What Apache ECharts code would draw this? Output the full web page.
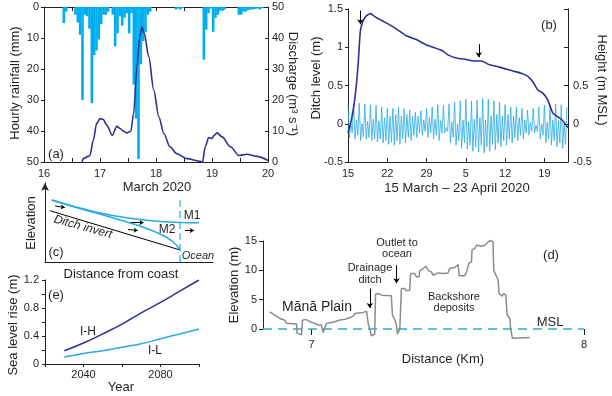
<!DOCTYPE html>
<html><head><meta charset="utf-8">
<script src="https://cdn.jsdelivr.net/npm/echarts@6/dist/echarts.min.js"></script>
<style>html,body{margin:0;padding:0;background:#fff}#c{width:612px;height:396px}</style>
</head><body><div id="c"></div>
<script>
// ---------- Panel (a): hourly rainfall (from 16 March 00:00) and discharge ----------
const rainfallStartDay = 16;
const hourlyRainfall = [
  0,0,0,0,0,0,0,0,5.2,1.5,0,0,
  0,2.5,5,9,30,2.5,3,7,31,15.5,14,10.5,
  5.5,2.5,2.5,1.5,0,2.5,12.7,8.5,3,6,3.5,2,
  8.5,2,25,36,49,18.5,11,8,2.5,1.5,0,0,
  0,0,0,0,0,0,0,0,0.8,0.5,0.8,0.3,
  0,0,0,0,0,0,0,0,17,7.3,2,0.5,
  8,3.5,2.5,1.2,1.2,0.8,0,0,0,0,0,2.5,
  2.5,1.5,1.5,1,0.8,0.8,0.6,0.5,0.8,0.4,0,0
];
const dischargeDay = [16.68,16.70,16.79,16.82,16.88,16.94,17.0,17.06,17.12,17.22,17.30,17.36,17.42,17.48,17.55,17.60,17.66,17.71,17.75,17.79,17.87,17.96,18.05,18.14,18.25,18.37,18.55,18.79,18.83,18.88,18.94,19.0,19.04,19.09,19.18,19.33,19.48,19.62,19.80,20.0];
const dischargeValue = [0,1.1,1.8,2.1,7.0,12.4,14.0,13.7,11.9,8.6,11.5,10.8,9.9,9.4,9.9,15.6,30.7,40.4,43.5,41.5,34.0,23.2,14.6,9.2,4.9,2.7,1.1,0.2,0,4.9,7.9,7.6,8.6,9.4,8.1,4.9,2.1,2.5,1.8,0.5];
const axisAX = [16,17,18,19,20];

// ---------- Panel (b): ditch level and ocean tide (days after 15 March) ----------
const ticksB = ['15','22','29','5','12','19'];
const ditchDay = [0,0.6,1.19,1.78,2.2,2.67,3.26,4.04,4.75,6.23,8.01,9.2,10.39,12.17,13.95,15.13,16.91,17.8,19.29,21.07,22.55,23.74,25.22,27.0,29.38,30.86,32.05,32.94,33.83,34.72,35.6,36.5,37.4,38.28,39.17];
const ditchLevel = [-0.12,0.05,0.31,0.75,1.21,1.34,1.41,1.44,1.40,1.34,1.27,1.21,1.15,1.10,1.03,1.0,0.95,0.90,0.86,0.84,0.82,0.82,0.77,0.74,0.69,0.66,0.62,0.55,0.44,0.40,0.31,0.14,0.09,0.04,-0.05];
const tideStep = 0.25; // days between tide readings
const tideHeight = [
  0.25,-0.18,0.02,-0.12,  0.26,-0.20,0.05,-0.15,  0.27,-0.22,0.0,-0.17,  0.26,-0.20,0.03,-0.18,
  0.25,-0.22,0.06,-0.20,  0.24,-0.24,0.04,-0.20,  0.22,-0.25,0.08,-0.22,  0.20,-0.27,0.10,-0.24,
  0.20,-0.28,0.12,-0.22,  0.22,-0.27,0.10,-0.20,  0.20,-0.25,0.12,-0.18,  0.18,-0.22,0.10,-0.15,
  0.15,-0.18,0.10,-0.12,  0.17,-0.15,0.05,-0.10,  0.20,-0.18,0.08,-0.12,  0.22,-0.20,0.06,-0.15,
  0.25,-0.22,0.04,-0.12,  0.24,-0.12,-0.05,-0.10, 0.26,-0.25,0.02,-0.18,  0.28,-0.28,0.0,-0.22,
  0.30,-0.32,0.05,-0.25,  0.32,-0.33,0.02,-0.28,  0.30,-0.36,0.06,-0.30,  0.31,-0.37,0.08,-0.28,
  0.33,-0.38,0.05,-0.30,  0.32,-0.36,0.10,-0.27,  0.30,-0.34,0.12,-0.25,  0.28,-0.30,0.10,-0.22,
  0.25,-0.28,0.12,-0.20,  0.22,-0.25,0.10,-0.18,  0.22,-0.22,0.08,-0.15,  0.20,-0.20,0.05,-0.12,
  0.18,-0.15,0.02,-0.10,  0.20,-0.12,-0.02,-0.10, 0.22,-0.20,0.0,-0.15,   0.24,-0.25,0.02,-0.20,
  0.25,-0.28,0.05,-0.22,  0.26,-0.30,0.04,-0.25,  0.25,-0.32,0.02,-0.27,  0.22
];

// ---------- Panel (c): schematic (arbitrary units) ----------
const invertX = [3.0,80.4];
const invertY = [64.9,15.2];
const m1X = [4.0,20.8,38.7,56.5,68.5,80.4,91.7];
const m1Y = [78.5,68.4,59.5,53.8,51.3,50.0,49.7];
const m2X = [4.0,20.8,38.7,56.5,68.5,75.6,80.4];
const m2Y = [78.5,67.7,57.0,45.6,35.4,26.6,15.8];
const coastX = 80.4;

// ---------- Panel (e): sea level rise scenarios ----------
const slrYear = [2030,2040,2050,2060,2070,2080,2090,2100];
const slrIH = [0.19,0.30,0.43,0.57,0.73,0.88,1.04,1.20];
const slrIL = [0.10,0.15,0.19,0.24,0.29,0.36,0.43,0.50];

// ---------- Panel (d): elevation profile ----------
const profileKm = [6.847,6.865,6.875,6.884,6.902,6.908,6.945,6.947,6.963,6.967,
  6.979,6.994,7.012,7.024,7.03,7.036,7.043,7.049,7.055,7.067,
  7.086,7.104,7.122,7.141,7.153,7.159,7.19,7.202,7.208,7.22,
  7.232,7.235,7.245,7.257,7.293,7.297,7.306,7.312,7.315,7.324,
  7.33,7.342,7.348,7.36,7.364,7.379,7.385,7.395,7.397,7.41,
  7.419,7.428,7.44,7.446,7.465,7.483,7.501,7.507,7.526,7.538,
  7.542,7.562,7.569,7.578,7.587,7.589,7.599,7.605,7.624,7.636,
  7.648,7.657,7.666,7.669,7.685,7.688,7.7,7.705,7.713,7.718,
  7.728,7.73,7.737,7.801];
const profileElev = [2.94,2.38,2.1,1.8,1.5,0.96,0.85,-0.7,-1.0,1.5,
  1.64,1.25,0.96,0.68,0.85,0.68,-0.6,-0.4,0.96,1.07,
  1.25,1.53,1.64,1.92,2.2,2.66,2.83,3.05,0.96,-1.19,
  -0.85,5.94,6.05,5.77,5.66,2.38,1.53,0.68,-0.85,-0.06,
  6.9,6.9,6.5,6.62,9.45,9.45,8.9,8.9,9.9,10.3,
  10.7,10.0,9.73,9.17,9.56,9.45,9.56,10.3,10.47,11.0,
  9.06,9.06,9.73,11.26,11.43,13.5,13.7,14.26,14.1,14.26,
  14.83,15.1,14.83,10.0,8.3,6.05,5.6,6.05,5.77,2.38,
  1.8,0.4,-1.58,-1.47];
const profileRange = [6.822, 8];

// ---------- styling ----------
const NAVY = '#2e3192', CYAN = '#00aeef', TIDE = '#29abe2', GRAY = '#8c8c8c', INK = '#231f20';
const FF = '"Liberation Sans", Arial, sans-serif';
const lbl = (extra) => Object.assign({fontFamily: FF, fontSize: 11, color: INK}, extra || {});
const line = {show: true, onZero: false, lineStyle: {color: INK, width: 1}};
const tick = (inside, len) => ({show: true, inside: inside, length: len || 3, lineStyle: {color: INK}});
const near = (v, s) => Math.abs(v / s - Math.round(v / s)) < 1e-6;
const zip = (a, b) => a.map((v, i) => [v, b[i]]);

const chart = echarts.init(document.getElementById('c'), null, {renderer: 'canvas'});

const arrow = (xi, yi, coordsList, color, size) => ({
  type: 'lines', coordinateSystem: 'cartesian2d', xAxisIndex: xi, yAxisIndex: yi,
  symbol: ['none', 'arrow'], symbolSize: size || 6, silent: true, clip: false,
  lineStyle: {color: color || '#000', width: 1, opacity: 1},
  data: coordsList.map(c => ({coords: c}))
});

const texts = [
  // (a)
  ['(a)', 56, 154, 13], ['Hourly rainfall (mm)', 15, 83, 13, Math.PI / 2],
  ['Discharge (m³ s⁻¹)', 293, 84, 13, -Math.PI / 2], ['March 2020', 157, 187, 13],
  // (b)
  ['(b)', 549, 25, 13], ['Ditch level (m)', 316, 78, 13, Math.PI / 2],
  ['Height (m MSL)', 602, 80, 13, -Math.PI / 2], ['15 March – 23 April 2020', 457, 188, 13],
  // (c)
  ['Elevation', 31, 223, 13, Math.PI / 2], ['Distance from coast', 121, 274, 13], ['(c)', 56, 252, 13],
  ['Ditch invert', 83, 227, 12, -0.27, 'italic'], ['M1', 192, 216, 12], ['M2', 167, 230, 12],
  ['Ocean', 198, 256, 11, 0, 'italic'],
  // (e)
  ['(e)', 56, 295, 13], ['I-H', 88, 332, 12], ['I-L', 155, 351, 12], ['Year', 121, 387, 13],
  ['Sea level rise (m)', 13, 325, 13, Math.PI / 2],
  // (d)
  ['Mānā Plain', 317, 307, 14], ['Drainage', 370, 268, 11], ['ditch', 370, 280, 11],
  ['Outlet to', 397, 243, 11], ['ocean', 397, 254, 11], ['Backshore', 454, 297, 11],
  ['deposits', 454, 308, 11], ['(d)', 551, 255, 13], ['MSL', 550, 322, 13],
  ['Distance (Km)', 443, 359, 13], ['Elevation (m)', 234, 285, 13, Math.PI / 2]
];

const option = {
  animation: false,
  backgroundColor: '#fff',
  grid: [
    {left: 44, top: 7, width: 224, height: 155},
    {left: 348, top: 9, width: 220, height: 153},
    {left: 45, top: 183, width: 168, height: 79},
    {left: 45, top: 280, width: 154, height: 84},
    {left: 263, top: 241, width: 321, height: 88}
  ],
  xAxis: [
    {gridIndex: 0, type: 'value', min: axisAX[0], max: axisAX[axisAX.length - 1], interval: 0.5,
      axisLine: line, axisTick: tick(true, 4), splitLine: {show: false},
      axisLabel: lbl({margin: 6, formatter: v => near(v, 1) ? String(v) : ''})},
    {gridIndex: 0, type: 'value', position: 'top', min: 16, max: 20, interval: 0.5,
      axisLine: line, axisTick: tick(true, 4), splitLine: {show: false}, axisLabel: {show: false}},
    {gridIndex: 1, type: 'value', min: 0, max: 39.2, interval: 7,
      axisLine: line, axisTick: tick(true, 4), splitLine: {show: false},
      axisLabel: lbl({margin: 6, showMaxLabel: false, formatter: v => ticksB[Math.round(v / 7)] || ''})},
    {gridIndex: 2, type: 'value', min: 0, max: 100, axisLine: line, axisTick: {show: false},
      axisLabel: {show: false}, splitLine: {show: false}},
    {gridIndex: 3, type: 'value', min: 2020, max: 2100, interval: 20,
      axisLine: line, axisTick: tick(false, 3), splitLine: {show: false},
      axisLabel: lbl({margin: 5, formatter: v => (v === 2040 || v === 2080) ? String(v) : ''})},
    {gridIndex: 4, type: 'value', min: profileRange[0], max: profileRange[1],
      axisLine: {show: false, onZero: false}, splitLine: {show: false},
      axisTick: {show: true, customValues: [7, 8], length: 6, lineStyle: {color: INK}},
      axisLabel: lbl({customValues: [7, 8], margin: 10})}
  ],
  yAxis: [
    {gridIndex: 0, type: 'value', inverse: true, min: 0, max: 50, interval: 10,
      axisLine: line, axisTick: tick(false, 3), splitLine: {show: false}, axisLabel: lbl({margin: 5})},
    {gridIndex: 0, type: 'value', position: 'right', min: 0, max: 50, interval: 10,
      axisLine: line, axisTick: tick(true, 3), splitLine: {show: false}, axisLabel: lbl({margin: 4})},
    {gridIndex: 1, type: 'value', min: -0.5, max: 1.5, interval: 0.5,
      axisLine: line, axisTick: tick(false, 3), splitLine: {show: false}, axisLabel: lbl({margin: 5})},
    {gridIndex: 1, type: 'value', position: 'right', min: -0.5, max: 1.5, interval: 0.5,
      axisLine: line, axisTick: tick(true, 4), splitLine: {show: false},
      axisLabel: lbl({margin: 5, formatter: v => v <= 0.5 ? String(v) : ''})},
    {gridIndex: 2, type: 'value', min: 0, max: 100,
      axisLine: {show: true, onZero: false, symbol: ['none', 'arrow'], symbolSize: [6, 8], lineStyle: {color: INK, width: 1}},
      axisTick: {show: false}, axisLabel: {show: false}, splitLine: {show: false}},
    {gridIndex: 3, type: 'value', min: 0, max: 1.2, interval: 0.2,
      axisLine: line, axisTick: tick(false, 3), splitLine: {show: false},
      axisLabel: lbl({margin: 6, formatter: v => near(v, 0.4) ? String(Math.round(v * 10) / 10) : ''})},
    {gridIndex: 4, type: 'value', min: 0, max: 15, interval: 5,
      axisLine: line, axisTick: tick(false, 4), splitLine: {show: false}, axisLabel: lbl({margin: 6})}
  ],
  series: [
    // (a)
    {type: 'bar', xAxisIndex: 0, yAxisIndex: 0, barWidth: 2.6, silent: true,
      itemStyle: {color: CYAN},
      data: hourlyRainfall.map((v, h) => [rainfallStartDay + (h + 0.5) / 24, v])},
    {type: 'line', xAxisIndex: 0, yAxisIndex: 1, showSymbol: false, smooth: 0.3, smoothMonotone: 'x',
      lineStyle: {color: NAVY, width: 1.6}, data: zip(dischargeDay, dischargeValue)},
    // (b)
    {type: 'line', xAxisIndex: 2, yAxisIndex: 3, showSymbol: false,
      lineStyle: {color: TIDE, width: 0.8}, data: tideHeight.map((v, i) => [i * tideStep, v])},
    {type: 'line', xAxisIndex: 2, yAxisIndex: 2, showSymbol: false, smooth: 0.2,
      lineStyle: {color: NAVY, width: 1.6}, data: zip(ditchDay, ditchLevel)},
    arrow(2, 2, [[[2.2, 1.48], [2.2, 1.30]], [[23.3, 1.04], [23.3, 0.87]]], '#000', 5),
    // (c)
    {type: 'line', xAxisIndex: 3, yAxisIndex: 4, showSymbol: false,
      lineStyle: {color: '#000', width: 1}, data: zip(invertX, invertY)},
    {type: 'line', xAxisIndex: 3, yAxisIndex: 4, showSymbol: false, smooth: 0.4,
      lineStyle: {color: TIDE, width: 1.5}, data: zip(m1X, m1Y)},
    {type: 'line', xAxisIndex: 3, yAxisIndex: 4, showSymbol: false, smooth: 0.4,
      lineStyle: {color: TIDE, width: 1.5}, data: zip(m2X, m2Y)},
    {type: 'line', xAxisIndex: 3, yAxisIndex: 4, showSymbol: false,
      lineStyle: {color: TIDE, width: 1.2, type: [7, 4]}, data: [[coastX, 0], [coastX, 80]]},
    arrow(3, 4, [[[6, 70.9], [11.8, 69]], [[50.6, 50.3], [58.6, 49.8]], [[49.4, 41.1], [55.2, 39.9]], [[83.3, 39.9], [88.6, 39.9]]], '#000', 4),
    // (e)
    {type: 'line', xAxisIndex: 4, yAxisIndex: 5, showSymbol: false, smooth: true,
      lineStyle: {color: NAVY, width: 1.5}, data: zip(slrYear, slrIH)},
    {type: 'line', xAxisIndex: 4, yAxisIndex: 5, showSymbol: false, smooth: true,
      lineStyle: {color: TIDE, width: 1.5}, data: zip(slrYear, slrIL)},
    // (d)
    {type: 'line', xAxisIndex: 5, yAxisIndex: 6, showSymbol: false, clip: false,
      lineStyle: {color: TIDE, width: 1.5, type: [9, 6]}, data: [[profileRange[0], 0], [profileRange[1], 0]]},
    {type: 'line', xAxisIndex: 5, yAxisIndex: 6, showSymbol: false, clip: false,
      lineStyle: {color: GRAY, width: 1.5}, data: zip(profileKm, profileElev)},
    arrow(5, 6, [[[7.214, 6.9], [7.214, 3.6]], [[7.312, 10.9], [7.312, 7.8]]], '#000', 5)
  ],
  graphic: texts.map(t => ({
    type: 'text', x: t[1], y: t[2], rotation: t[4] || 0, silent: true,
    style: {text: t[0], font: (t[5] ? t[5] + ' ' : '') + t[3] + 'px ' + FF, fill: INK,
      align: 'center', verticalAlign: 'middle'}
  }))
};
chart.setOption(option);
</script></body></html>
